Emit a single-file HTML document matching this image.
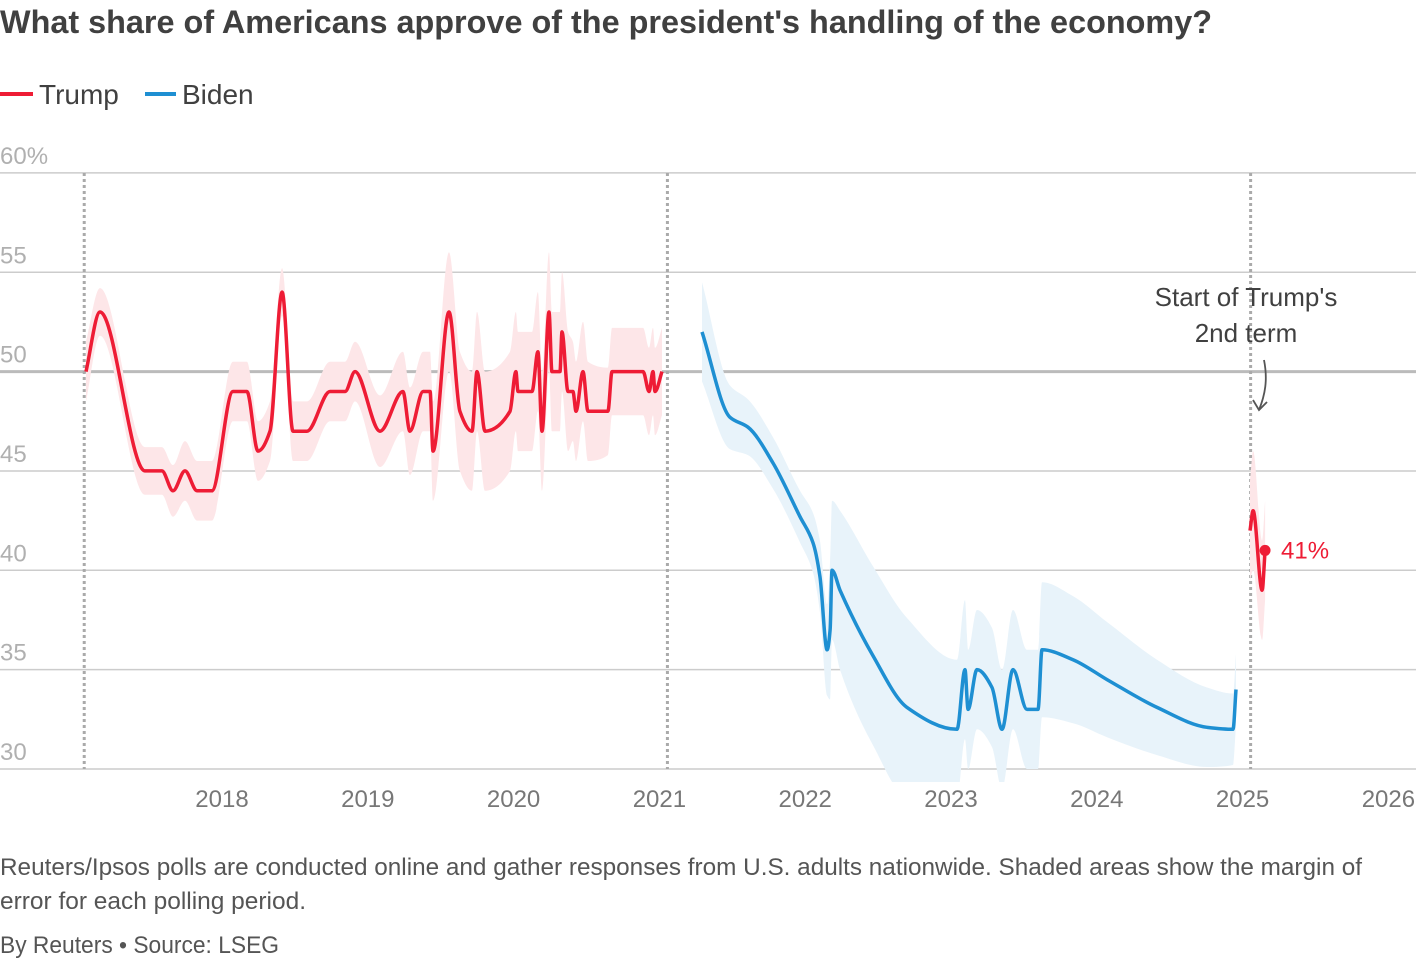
<!DOCTYPE html>
<html><head><meta charset="utf-8">
<style>
body{margin:0;background:#fff;font-family:"Liberation Sans",sans-serif;}
svg text{font-family:"Liberation Sans",sans-serif;}
</style></head>
<body>
<svg id="chart" width="1420" height="960">
<defs><clipPath id="plotclip"><rect x="0" y="160" width="1420" height="622"/></clipPath></defs>
<text x="0" y="33" font-size="32" font-weight="bold" fill="#404040" textLength="1212" lengthAdjust="spacingAndGlyphs">What share of Americans approve of the president's handling of the economy?</text>
<g>
<line x1="0" y1="94" x2="33" y2="94" stroke="#ee1c35" stroke-width="4"/>
<text x="39" y="104" font-size="28" fill="#404040">Trump</text>
<line x1="145" y1="94" x2="176" y2="94" stroke="#1e8fd2" stroke-width="4"/>
<text x="182" y="104" font-size="28" fill="#404040">Biden</text>
</g>
<g id="grid"></g>
<g id="bands" clip-path="url(#plotclip)"></g>
<g id="labels"></g>
<g id="lines"></g>
<g>
<text x="1246" y="306" font-size="26" fill="#404040" text-anchor="middle">Start of Trump's</text>
<text x="1246" y="342" font-size="26" fill="#404040" text-anchor="middle">2nd term</text>
<path d="M1264,360 C1268,380 1265,395 1259,410" fill="none" stroke="#555" stroke-width="1.8"/>
<path d="M1253,400 L1259,410 L1267,402" fill="none" stroke="#555" stroke-width="1.8"/>
</g>
<text x="0" y="875" font-size="24" fill="#555" textLength="1362" lengthAdjust="spacingAndGlyphs">Reuters/Ipsos polls are conducted online and gather responses from U.S. adults nationwide. Shaded areas show the margin of</text>
<text x="0" y="909" font-size="24" fill="#555" textLength="306" lengthAdjust="spacingAndGlyphs">error for each polling period.</text>
<text x="0" y="953" font-size="24" fill="#555" textLength="279" lengthAdjust="spacingAndGlyphs">By Reuters • Source: LSEG</text>
</svg>
<script>
const yTicks = [30,35,40,45,50,55,60];
const yTickLabels = ["30","35","40","45","50","55","60%"];
const xTicks = [2018,2019,2020,2021,2022,2023,2024,2025,2026];
const termStarts = [2017.055,2021.055,2025.055];

const trump1Dates = [2017.067,2017.163,2017.472,2017.588,2017.664,2017.746,2017.829,2017.931,2018.075,2018.171,2018.247,2018.329,2018.412,2018.487,2018.583,2018.741,2018.844,2018.912,2019.084,2019.241,2019.289,2019.379,2019.427,2019.447,2019.557,2019.632,2019.715,2019.749,2019.804,2019.975,2020.016,2020.030,2020.126,2020.167,2020.195,2020.243,2020.263,2020.318,2020.332,2020.373,2020.407,2020.428,2020.476,2020.510,2020.647,2020.675,2020.888,2020.929,2020.956,2020.970,2021.018];
const trump1Values = [50,53,45,45,44,45,44,44,49,49,46,47,54,47,47,49,49,50,47,49,47,49,49,46,53,48,47,50,47,48,50,49,49,51,47,53,50,50,52,49,49,48,50,48,48,50,50,49,50,49,50];
const trump1Moe = [1.5,1.2,1.2,1.2,1.3,1.5,1.5,1.5,1.5,1.5,1.5,1.5,1.2,1.5,1.5,1.5,1.5,1.5,1.8,2,2.2,2,2,2.5,3,3,3,3,3,3,3,3,3,3,3,3,3,3,3,3,2.5,2.5,2.5,2.5,2.2,2.2,2.2,2.2,2.2,2.2,2.2];

const bidenDates = [2021.292,2021.484,2021.608,2021.779,2021.964,2022.053,2022.101,2022.150,2022.171,2022.184,2022.239,2022.465,2022.698,2023.041,2023.096,2023.117,2023.178,2023.281,2023.350,2023.425,2023.521,2023.597,2023.624,2023.837,2024.070,2024.413,2024.756,2024.934,2024.955];
const bidenValues = [52,47.7,47.2,45.4,42.7,41.4,39.7,36,37,40,39,35.7,33.1,32,35,33,35,34.1,32,35,33,33,36,35.5,34.5,33.1,32.1,32,34];
const bidenMoe = [2.5,1.6,1.4,1.3,1.3,1.5,1.8,2.3,3.5,3.5,4,4.5,4.5,3.5,3.5,3,3,3,3,3,3,3,3.4,3.2,2.9,2.4,2,1.8,1.8];

const trump2Dates = [2025.051,2025.072,2025.134,2025.154];
const trump2Values = [42,43,39,41];
const trump2Moe = [2.5,3,2.5,2.5];

const NS='http://www.w3.org/2000/svg';
function xScale(d){return 222+(d-2018)*145.8;}
function yScale(v){return 769-(v-30)*19.87;}
function mk(tag,attrs,parent){const e=document.createElementNS(NS,tag);for(const k in attrs)e.setAttribute(k,attrs[k]);parent.appendChild(e);return e;}

function monoPath(xs,ys,move){
  const n=xs.length;if(n<2)return '';
  const d=[],m=[];
  for(let i=0;i<n-1;i++)d.push((ys[i+1]-ys[i])/(xs[i+1]-xs[i]));
  m[0]=d[0];m[n-1]=d[n-2];
  for(let i=1;i<n-1;i++){if(d[i-1]*d[i]<=0)m[i]=0;else{const w1=2*(xs[i+1]-xs[i])+(xs[i]-xs[i-1]),w2=(xs[i+1]-xs[i])+2*(xs[i]-xs[i-1]);m[i]=(w1+w2)/(w1/d[i-1]+w2/d[i]);}}
  let p=(move?'M':'L')+xs[0].toFixed(1)+','+ys[0].toFixed(1);
  for(let i=0;i<n-1;i++){const h=(xs[i+1]-xs[i])/3;
    p+=' C'+(xs[i]+h).toFixed(1)+','+(ys[i]+m[i]*h).toFixed(1)+' '+(xs[i+1]-h).toFixed(1)+','+(ys[i+1]-m[i+1]*h).toFixed(1)+' '+xs[i+1].toFixed(1)+','+ys[i+1].toFixed(1);}
  return p;
}

const grid=document.getElementById('grid');
const labels=document.getElementById('labels');
yTicks.forEach((t,i)=>{
  const y=yScale(t);
  const gl=mk('line',{x1:0,x2:1416,y1:y,y2:y,stroke:t===50?'#bbb':'#ccc','stroke-width':t===50?3:1.5},grid);
  
  
  const tx=mk('text',{x:0,y:y-9,'font-size':24,fill:'#b0b0b0'},labels);
  tx.textContent=yTickLabels[i];
  
  
});
xTicks.forEach(t=>{
  const tx=mk('text',{x:xScale(t),y:807,'font-size':24,fill:'#777','text-anchor':'middle'},labels);
  tx.textContent=t;
  
  
});
termStarts.forEach((d,i)=>{
  const l=mk('line',{x1:xScale(d),x2:xScale(d),y1:173,y2:769,stroke:'#aaa','stroke-width':3,'stroke-dasharray':'3 3'},grid);
  
  
});

function series(dates,vals,moe,color,fill,name){
  const xs=dates.map(xScale);
  const up=vals.map((v,i)=>yScale(v+moe[i]));
  const lo=vals.map((v,i)=>yScale(v-moe[i]));
  const band=monoPath(xs,up,true)+' '+monoPath(xs.slice().reverse(),lo.slice().reverse(),false)+' Z';
  const b=mk('path',{d:band,fill:fill,stroke:'none'},document.getElementById('bands'));
  
  
  const l=mk('path',{d:monoPath(xs,vals.map(yScale),true),fill:'none',stroke:color,'stroke-width':3.5,'stroke-linejoin':'round'},document.getElementById('lines'));
  
  
}
series(trump1Dates,trump1Values,trump1Moe,'#ee1c35','#fde6e8','trump-first-term');
series(bidenDates,bidenValues,bidenMoe,'#1e8fd2','#e8f3fa','biden');
series(trump2Dates,trump2Values,trump2Moe,'#ee1c35','#fde6e8','trump-second-term');

const lastI=trump2Values.length-1;
const dot=mk('circle',{cx:xScale(trump2Dates[lastI]),cy:yScale(trump2Values[lastI]),r:5.5,fill:'#ee1c35'},document.getElementById('lines'));


const lab=mk('text',{x:xScale(trump2Dates[lastI])+16,y:yScale(trump2Values[lastI])+8,'font-size':24,fill:'#ee1c35'},document.getElementById('lines'));
lab.textContent=trump2Values[lastI]+'%';


</script>
</body></html>
